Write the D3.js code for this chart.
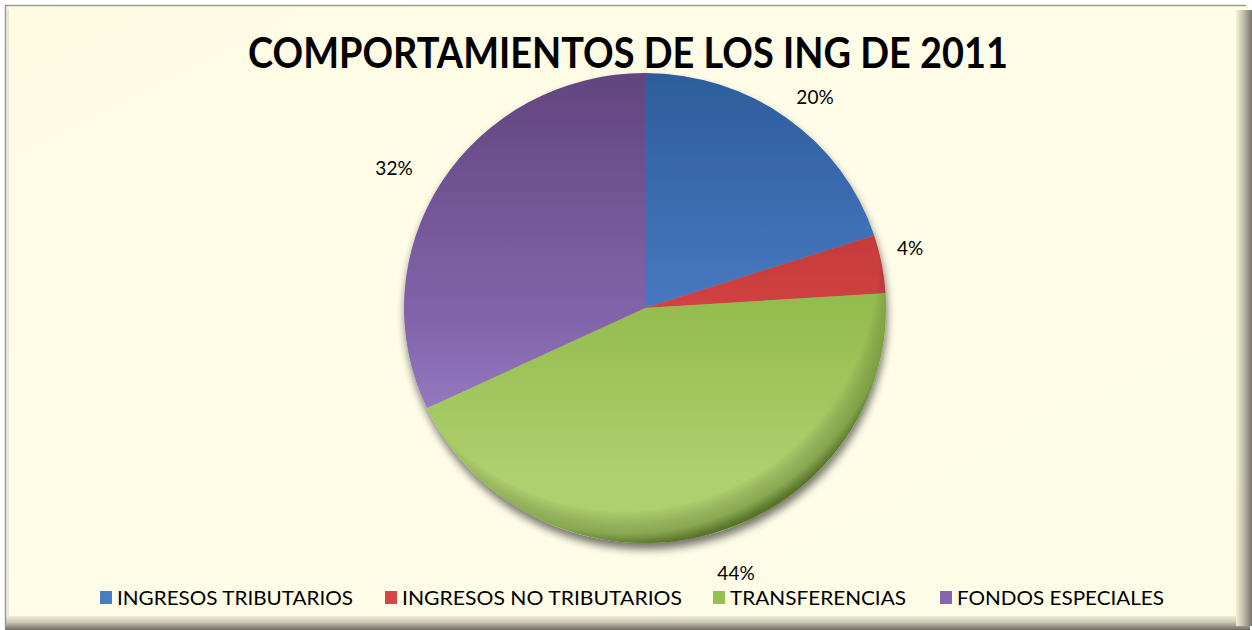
<!DOCTYPE html>
<html>
  <head>
    <script src="https://d3js.org/d3.v7.min.js"></script>
    <style>
      body {margin: 0; background: #ffffff;}
      text {font-family: Lato, "Open Sans", sans-serif; fill: #000;}
    </style>
  </head>
  <body>
    <svg id="chart" width="1252" height="630"></svg>
  </body>
  <script>
    // data
    var categories = ["INGRESOS TRIBUTARIOS", "INGRESOS NO TRIBUTARIOS", "TRANSFERENCIAS", "FONDOS ESPECIALES"];
    var values = [20, 4, 44, 32];
    var pctLabels = ["20%", "4%", "44%", "32%"];
    var colors = ["#4a7cc4", "#d64545", "#98bf52", "#8466ad"];
    var darkColors = ["#2d5c9c", "#a82628", "#76a032", "#62447f"];
    var lightColors = ["#6a9ee0", "#ee6a68", "#aed06e", "#a18ad0"];
    var legendLengths = [236, 280, 176, 207];

    var svg = d3.select("#chart");
    var defs = svg.append("defs");

    // frame background
    var bg = defs.append("linearGradient").attr("id", "bg")
      .attr("x1", 0).attr("y1", 0).attr("x2", 1).attr("y2", 1);
    bg.append("stop").attr("offset", "0%").attr("stop-color", "#fdfbe2");
    bg.append("stop").attr("offset", "50%").attr("stop-color", "#fffde8");
    bg.append("stop").attr("offset", "100%").attr("stop-color", "#fdfce6");

    var bottomBevel = defs.append("linearGradient").attr("id", "bevelB")
      .attr("x1", 0).attr("y1", 0).attr("x2", 0).attr("y2", 1);
    bottomBevel.append("stop").attr("offset", "0%").attr("stop-color", "#f3f0d8");
    bottomBevel.append("stop").attr("offset", "45%").attr("stop-color", "#c9c6b2");
    bottomBevel.append("stop").attr("offset", "100%").attr("stop-color", "#6f6b60");

    var rightBevel = defs.append("linearGradient").attr("id", "bevelR")
      .attr("x1", 0).attr("y1", 0).attr("x2", 1).attr("y2", 0);
    rightBevel.append("stop").attr("offset", "0%").attr("stop-color", "#f3f0d8");
    rightBevel.append("stop").attr("offset", "45%").attr("stop-color", "#c3c0ad");
    rightBevel.append("stop").attr("offset", "100%").attr("stop-color", "#77736a");

    svg.append("rect").attr("x", 5).attr("y", 5).attr("width", 1245).attr("height", 625)
      .attr("fill", "url(#bg)");
    svg.append("rect").attr("x", 5).attr("y", 616).attr("width", 1245).attr("height", 14)
      .attr("fill", "url(#bevelB)");
    svg.append("rect").attr("x", 1236).attr("y", 10).attr("width", 16).attr("height", 616)
      .attr("fill", "url(#bevelR)");
    svg.append("line").attr("x1", 5.5).attr("y1", 5).attr("x2", 5.5).attr("y2", 628)
      .attr("stroke", "#9a9a92").attr("stroke-width", 1.5);
    svg.append("line").attr("x1", 5).attr("y1", 5.5).attr("x2", 1246).attr("y2", 5.5)
      .attr("stroke", "#9a9a92").attr("stroke-width", 1.5);
    svg.append("line").attr("x1", 8).attr("y1", 9).attr("x2", 8).attr("y2", 616)
      .attr("stroke", "#e8e6d6").attr("stroke-width", 2);

    // title
    svg.append("text")
      .attr("x", 628).attr("y", 68)
      .attr("text-anchor", "middle")
      .attr("font-size", 42).attr("font-weight", "bold")
      .attr("textLength", 760).attr("lengthAdjust", "spacingAndGlyphs")
      .text("COMPORTAMIENTOS DE LOS ING DE 2011");

    // pie
    var cx = 645, cy = 308, rx = 241, ry = 235;

    var shadow = defs.append("filter").attr("id", "shadow")
      .attr("x", "-20%").attr("y", "-20%").attr("width", "140%").attr("height", "140%");
    shadow.append("feGaussianBlur").attr("in", "SourceAlpha").attr("stdDeviation", 4);
    shadow.append("feOffset").attr("dx", 1).attr("dy", 6).attr("result", "off");
    shadow.append("feComponentTransfer").append("feFuncA").attr("type", "linear").attr("slope", 0.55);
    var merge = shadow.append("feMerge");
    merge.append("feMergeNode");
    merge.append("feMergeNode").attr("in", "SourceGraphic");

    colors.forEach(function(c, i) {
      var g = defs.append("linearGradient").attr("id", "slice" + i)
        .attr("gradientUnits", "userSpaceOnUse")
        .attr("x1", 0).attr("y1", -rx).attr("x2", 0).attr("y2", rx);
      g.append("stop").attr("offset", "0%").attr("stop-color", darkColors[i]);
      g.append("stop").attr("offset", "55%").attr("stop-color", c);
      g.append("stop").attr("offset", "85%").attr("stop-color", lightColors[i]);
      g.append("stop").attr("offset", "100%").attr("stop-color", lightColors[i]);
    });

    // dark rim along the lower and right edge only
    var rim = defs.append("radialGradient").attr("id", "rim")
      .attr("gradientUnits", "userSpaceOnUse")
      .attr("cx", -20).attr("cy", -50).attr("r", ry + 52);
    rim.append("stop").attr("offset", "0%").attr("stop-color", "#000").attr("stop-opacity", 0);
    rim.append("stop").attr("offset", "88%").attr("stop-color", "#000").attr("stop-opacity", 0);
    rim.append("stop").attr("offset", "96%").attr("stop-color", "#2a4308").attr("stop-opacity", 0.28);
    rim.append("stop").attr("offset", "100%").attr("stop-color", "#2a4308").attr("stop-opacity", 0.65);

    var pie = d3.pie().sort(null).value(function(d) { return d; });
    var arcs = pie(values);
    var arc = d3.arc().innerRadius(0).outerRadius(rx);

    var pieG = svg.append("g")
      .attr("transform", "translate(" + cx + "," + cy + ")")
      .attr("filter", "url(#shadow)");

    pieG.append("g").attr("transform", "scale(1," + (ry / rx) + ")")
      .selectAll("path.slice")
      .data(arcs).enter().append("path")
      .attr("class", "slice")
      .attr("d", arc)
      .attr("fill", function(d, i) { return "url(#slice" + i + ")"; });

    pieG.append("ellipse").attr("cx", 0).attr("cy", 0).attr("rx", rx).attr("ry", ry)
      .attr("fill", "url(#rim)");

    // percentage labels
    var labelPos = [[815, 104], [910, 255], [736, 580], [394, 175]];
    svg.selectAll("text.pct")
      .data(arcs).enter().append("text")
      .attr("class", "pct")
      .attr("x", function(d, i) { return labelPos[i][0]; })
      .attr("y", function(d, i) { return labelPos[i][1]; })
      .attr("text-anchor", "middle")
      .attr("font-size", 19)
      .text(function(d, i) { return pctLabels[i]; });

    // legend
    var legendX = [100, 385, 713, 940];
    var legend = svg.selectAll("g.legend")
      .data(categories).enter().append("g")
      .attr("class", "legend")
      .attr("transform", function(d, i) { return "translate(" + legendX[i] + ",591)"; });
    legend.append("rect")
      .attr("width", 12).attr("height", 13)
      .attr("fill", function(d, i) { return colors[i]; });
    legend.append("text")
      .attr("x", 17).attr("y", 14)
      .attr("font-size", 20)
      .attr("textLength", function(d, i) { return legendLengths[i]; })
      .attr("lengthAdjust", "spacingAndGlyphs")
      .text(function(d) { return d; });
  </script>
</html>
